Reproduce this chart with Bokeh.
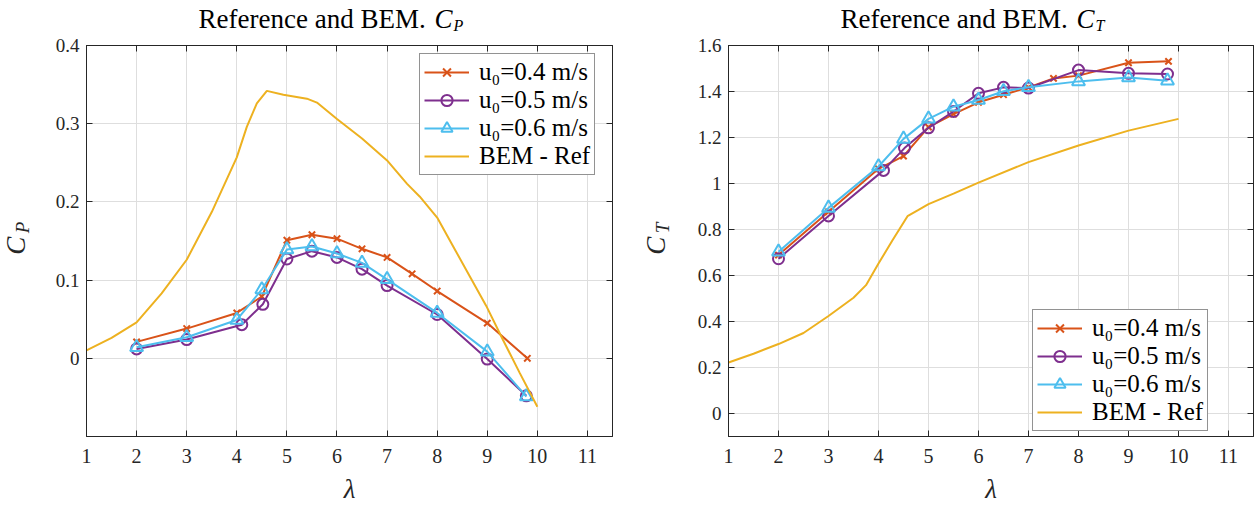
import math
from bokeh.plotting import figure
from bokeh.layouts import row, column
from bokeh.models import (Range1d, FixedTicker, LinearAxis, Legend, LegendItem,
                          CustomJSTickFormatter)
from bokeh.core.properties import value
from bokeh.embed import file_html
from bokeh.resources import INLINE

# ---------------- data ----------------
x_ticks = [1, 2, 3, 4, 5, 6, 7, 8, 9, 10, 11]
x_tick_labels = ["1", "2", "3", "4", "5", "6", "7", "8", "9", "10", "11"]

cp_ticks = [0, 0.1, 0.2, 0.3, 0.4]
cp_tick_labels = ["0", "0.1", "0.2", "0.3", "0.4"]
ct_ticks = [0, 0.2, 0.4, 0.6, 0.8, 1.0, 1.2, 1.4, 1.6]
ct_tick_labels = ["0", "0.2", "0.4", "0.6", "0.8", "1", "1.2", "1.4", "1.6"]

series_names = ["u₀=0.4 m/s", "u₀=0.5 m/s", "u₀=0.6 m/s"]
bem_name = "BEM - Ref"
title_text = "Reference and BEM."

lam_04 = [2, 3, 4, 4.5, 5, 5.5, 6, 6.5, 7, 7.5, 8, 9, 9.8]
lam_05 = [2, 3, 4.1, 4.52, 5, 5.5, 6, 6.5, 7, 8, 9, 9.78]
lam_06 = [2, 3, 4, 4.5, 5, 5.5, 6, 6.5, 7, 8, 9, 9.78]

cp_04 = [0.021, 0.038, 0.058, 0.079, 0.151, 0.158, 0.153, 0.140, 0.129, 0.108, 0.086, 0.045, 0.0]
cp_05 = [0.012, 0.024, 0.043, 0.069, 0.127, 0.137, 0.129, 0.114, 0.093, 0.056, -0.001, -0.048]
cp_06 = [0.014, 0.027, 0.049, 0.088, 0.139, 0.143, 0.134, 0.122, 0.101, 0.058, 0.0085, -0.049]

ct_04 = [0.689, 0.877, 1.064, 1.119, 1.245, 1.302, 1.353, 1.386, 1.418, 1.457, 1.469, 1.525, 1.531]
ct_05 = [0.673, 0.859, 1.057, 1.154, 1.242, 1.313, 1.392, 1.418, 1.415, 1.493, 1.479, 1.476]
ct_06 = [0.703, 0.894, 1.074, 1.194, 1.281, 1.334, 1.363, 1.401, 1.418, 1.444, 1.461, 1.447]

bem_lam_cp = [1.0, 1.5, 2.0, 2.5, 3.0, 3.5, 4.0, 4.2, 4.4, 4.6, 4.93, 5.4, 5.6, 6.0, 6.5,
              7.0, 7.4, 7.65, 8.0, 8.32, 8.65, 8.98, 9.31, 9.65, 10.0]
bem_cp = [0.010, 0.026, 0.046, 0.083, 0.126, 0.187, 0.257, 0.296, 0.326, 0.342, 0.337, 0.332,
          0.327, 0.306, 0.281, 0.253, 0.223, 0.207, 0.180, 0.143, 0.105, 0.067, 0.024, -0.019, -0.062]

bem_lam_ct = [1.0, 1.5, 2.0, 2.5, 3.0, 3.5, 3.75, 4.0, 4.28, 4.58, 4.8, 5.0, 5.5, 6.0, 7.0,
              8.0, 9.0, 10.0]
bem_ct = [0.222, 0.260, 0.302, 0.350, 0.424, 0.503, 0.558, 0.652, 0.753, 0.858, 0.885, 0.910,
          0.956, 1.004, 1.093, 1.165, 1.230, 1.281]

# ---------------- style ----------------
FONT = "'Liberation Serif', 'DejaVu Serif', serif"
AX = "#262626"
GRID = "#dedede"
C_RED = "#D95319"
C_PUR = "#7E2F8E"
C_BLU = "#4DBEEE"
C_YEL = "#EDB120"

TITLE_H = 34
FRAME_TOP = 45
TOTAL_H = 507
MAIN_H = TOTAL_H - TITLE_H
YLAB_W = 44


def blank_axis(ticks):
    ax = LinearAxis(ticker=FixedTicker(ticks=ticks),
                    formatter=CustomJSTickFormatter(code="return ''"))
    ax.major_tick_in = 6
    ax.major_tick_out = 0
    ax.minor_tick_in = 0
    ax.minor_tick_out = 0
    ax.major_label_standoff = 0
    ax.major_label_text_font_size = "0px"
    ax.axis_line_color = AX
    ax.major_tick_line_color = AX
    return ax


def text_fig(width, height):
    f = figure(width=width, height=height, output_backend="svg", toolbar_location=None,
               title=None, x_range=Range1d(0, width), y_range=Range1d(0, height),
               x_axis_type=None, y_axis_type=None, min_border=0,
               background_fill_color="white", border_fill_color="white")
    f.outline_line_color = None
    return f


def title_fig(width, x0, sub):
    f = text_fig(width, TITLE_H)
    H = TITLE_H
    f.text(x=[x0], y=[H - 18.5], text=[title_text], text_font=value(FONT),
           text_font_size=value("27px"), text_color="black",
           text_align="left", text_baseline="alphabetic")
    f.text(x=[x0 + 236], y=[H - 18.5], text=["C"], text_font=value(FONT),
           text_font_size=value("27px"), text_font_style=value("italic"), text_color="black",
           text_align="left", text_baseline="alphabetic")
    f.text(x=[x0 + 255], y=[H - 24.5], text=[sub], text_font=value(FONT),
           text_font_size=value("16px"), text_font_style=value("italic"), text_color="black",
           text_align="left", text_baseline="alphabetic")
    return f


def ylabel_fig(sub):
    f = text_fig(YLAB_W, MAIN_H)
    H = MAIN_H
    f.text(x=[15], y=[H - (287 - TITLE_H)], text=["C"], angle=math.pi / 2,
           text_font=value(FONT), text_font_size=value("27px"),
           text_font_style=value("italic"), text_color=AX,
           text_align="left", text_baseline="alphabetic")
    f.text(x=[22], y=[H - (261 - TITLE_H)], text=[sub], angle=math.pi / 2,
           text_font=value(FONT), text_font_size=value("19px"),
           text_font_style=value("italic"), text_color=AX,
           text_align="left", text_baseline="alphabetic")
    return f


def make_fig(width, left_b, right_b, y_lo, y_hi, yticks, ylabels, data_sets,
             bem_x, bem_y, legend_loc):
    p = figure(width=width, height=MAIN_H, output_backend="svg", toolbar_location=None,
               title=None, x_range=Range1d(1, 11.5), y_range=Range1d(y_lo, y_hi),
               min_border_left=left_b, min_border_right=right_b,
               min_border_top=FRAME_TOP - TITLE_H, min_border_bottom=71,
               background_fill_color="white", border_fill_color="white")
    p.outline_line_color = AX
    p.outline_line_width = 1

    xa = p.xaxis[0]
    xa.ticker = FixedTicker(ticks=x_ticks)
    xa.major_label_overrides = {t: s for t, s in zip(x_ticks, x_tick_labels)}
    ya = p.yaxis[0]
    ya.ticker = FixedTicker(ticks=yticks)
    ya.major_label_overrides = {t: s for t, s in zip(yticks, ylabels)}
    for ax in (xa, ya):
        ax.major_tick_in = 6
        ax.major_tick_out = 0
        ax.minor_tick_in = 0
        ax.minor_tick_out = 0
        ax.axis_line_color = AX
        ax.major_tick_line_color = AX
        ax.major_label_text_font = FONT
        ax.major_label_text_font_size = "20px"
        ax.major_label_text_color = AX
    ya.major_label_text_font_size = "19px"
    xa.major_label_standoff = 12
    ya.major_label_standoff = 7
    xa.axis_label = "λ"
    xa.axis_label_text_font = FONT
    xa.axis_label_text_font_style = "italic"
    xa.axis_label_text_font_size = "27px"
    xa.axis_label_text_color = AX
    xa.axis_label_standoff = 8

    p.add_layout(blank_axis(yticks), "right")
    p.add_layout(blank_axis(x_ticks), "above")

    p.xgrid.grid_line_color = GRID
    p.ygrid.grid_line_color = GRID
    p.xgrid.grid_line_width = 1
    p.ygrid.grid_line_width = 1

    items = []
    specs = [("x", C_RED, 9), ("circle", C_PUR, 11), ("triangle", C_BLU, 13)]
    for (lam, vals), name, (mk, col, sz) in zip(data_sets, series_names, specs):
        lr = p.line(lam, vals, line_color=col, line_width=2)
        sr = p.scatter(lam, vals, marker=mk, size=sz, line_color=col, line_width=2,
                       fill_color=None)
        items.append(LegendItem(label=name, renderers=[lr, sr]))
    br = p.line(bem_x, bem_y, line_color=C_YEL, line_width=2)
    items.append(LegendItem(label=bem_name, renderers=[br]))

    lg = Legend(items=items, location=legend_loc)
    lg.label_text_font = FONT
    lg.label_text_font_size = "25px"
    lg.label_text_color = "black"
    lg.label_height = 28
    lg.glyph_height = 28
    lg.glyph_width = 45
    lg.spacing = 0
    lg.padding = 4
    lg.margin = 0
    lg.label_standoff = 10
    lg.border_line_color = AX
    lg.border_line_width = 1
    lg.background_fill_color = "white"
    lg.background_fill_alpha = 1
    p.add_layout(lg)
    return p


# left panel: total width 640, frame 86..612
t1 = title_fig(640, 198, "P")
y1 = ylabel_fig("P")
p1 = make_fig(640 - YLAB_W, 86 - YLAB_W, 28, -0.1, 0.4, cp_ticks, cp_tick_labels,
              [(lam_04, cp_04), (lam_05, cp_05), (lam_06, cp_06)],
              bem_lam_cp, bem_cp, (333, 261))

# right panel: total width 615, frame 728..1253
t2 = title_fig(615, 200, "T")
y2 = ylabel_fig("T")
p2 = make_fig(615 - YLAB_W, 728 - 640 - YLAB_W, 2, -0.1, 1.6, ct_ticks, ct_tick_labels,
              [(lam_04, ct_04), (lam_05, ct_05), (lam_06, ct_06)],
              bem_lam_ct, bem_ct, (304, 5))

layout = row(column(t1, row(y1, p1, spacing=0), spacing=0),
             column(t2, row(y2, p2, spacing=0), spacing=0), spacing=0)
open("out.html", "w").write(file_html(layout, INLINE))
